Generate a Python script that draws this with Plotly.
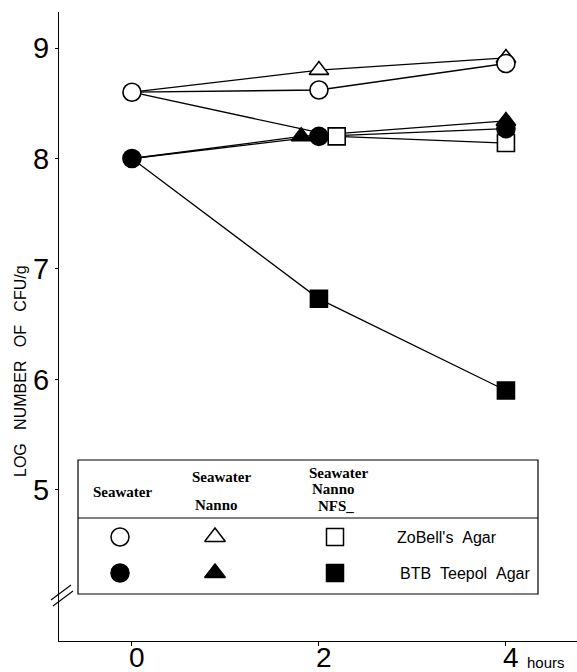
import plotly.graph_objects as go

# Viable counts (log CFU/g) over time, by treatment and plating medium
hours = [0, 2, 4]
seawater_zobell = [8.60, 8.62, 8.86]
nanno_zobell = [8.60, 8.80, 8.91]
nfs_zobell = [8.60, 8.20, 8.14]
seawater_btb = [8.00, 8.20, 8.27]
nanno_btb = [8.00, 8.20, 8.34]
nfs_btb = [8.00, 6.73, 5.90]

x_ticks = [0, 2, 4]
y_ticks = [5, 6, 7, 8, 9]

# Table-style key
key_columns = [["Seawater"], ["Seawater", "Nanno"], ["Seawater", "Nanno", "NFS_"]]
key_rows = ["ZoBell's\u00a0\u00a0Agar", "BTB\u00a0\u00a0Teepol\u00a0\u00a0Agar"]

W, H = 577, 672
ML, MR, MT, MB = 59, 0, 12, 31
PW, PH = W - ML - MR, H - MT - MB


def px_x(p):
    return (p - ML) / PW


def px_y(p):
    return (H - MB - p) / PH


INK = "black"
LINE_W = 1.3

# horizontal nudge at 2 h so overlapping symbols stay readable
nudge_2h = {"nanno_btb": -0.19, "nfs_zobell": 0.19}


def xs(key=None):
    d = nudge_2h.get(key, 0.0)
    return [h + (d if h == 2 else 0.0) for h in hours]


series = [
    # key, values, symbol, filled, size
    ("nfs_btb", nfs_btb, "square", True, 17),
    ("nfs_zobell", nfs_zobell, "square", False, 17),
    ("nanno_zobell", nanno_zobell, "triangle-up", False, 17),
    ("seawater_zobell", seawater_zobell, "circle", False, 18),
    ("seawater_btb", seawater_btb, "circle", True, 18),
    ("nanno_btb", nanno_btb, "triangle-up", True, 17),
]

fig = go.Figure()

# connecting lines first
for key, vals, sym, filled, size in series:
    fig.add_trace(go.Scatter(x=xs(key), y=vals, mode="lines",
                             line=dict(color=INK, width=LINE_W),
                             hoverinfo="skip", showlegend=False))

# symbols on top; treatments share the 0 h seawater start, shown by the circles only
for key, vals, sym, filled, size in series:
    xv, yv = xs(key), list(vals)
    if sym != "circle":
        xv, yv = xv[1:], yv[1:]
    fig.add_trace(go.Scatter(
        x=xv, y=yv, mode="markers",
        marker=dict(symbol=sym, size=size,
                    color=INK if filled else "white",
                    line=dict(color=INK, width=1.6)),
        showlegend=False, cliponaxis=False))

# key symbols, placed on a pixel-unit overlay axis
key_sym_x = [120, 215, 335]
key_sym_y = [537, 573]
key_syms = [("circle", 18), ("triangle-up", 18), ("square", 17)]
for r, yv in enumerate(key_sym_y):
    for c, xv in enumerate(key_sym_x):
        sym, size = key_syms[c]
        fig.add_trace(go.Scatter(
            x=[xv], y=[yv], xaxis="x2", yaxis="y2", mode="markers",
            marker=dict(symbol=sym, size=size,
                        color=INK if r == 1 else "white",
                        line=dict(color=INK, width=1.5)),
            showlegend=False, hoverinfo="skip"))

shapes = []
# key frame and divider
shapes.append(dict(type="rect", xref="paper", yref="paper",
                   x0=px_x(78), x1=px_x(538), y0=px_y(594), y1=px_y(460),
                   line=dict(color=INK, width=1.2), fillcolor="rgba(0,0,0,0)"))
shapes.append(dict(type="line", xref="paper", yref="paper",
                   x0=px_x(78), x1=px_x(538), y0=px_y(518), y1=px_y(518),
                   line=dict(color=INK, width=1.2)))
# axis break marks
for (x0, y0, x1, y1) in [(51, 600, 71, 585), (53, 606, 73, 591)]:
    shapes.append(dict(type="line", xref="paper", yref="paper",
                       x0=px_x(x0), y0=px_y(y0), x1=px_x(x1), y1=px_y(y1),
                       line=dict(color=INK, width=1.1)))

annotations = []
serif = dict(family="Liberation Serif, Times New Roman, serif", size=15, color=INK)
sans = dict(family="Liberation Sans, Arial, sans-serif", size=16, color=INK)

header_pos = [
    [(122, 492)],
    [(221, 477), (216, 505)],
    [(338, 473), (333, 489), (336, 506)],
]
for col, pos in zip(key_columns, header_pos):
    for txt, (xp, yp) in zip(col, pos):
        annotations.append(dict(text="<b>%s</b>" % txt, xref="paper", yref="paper",
                                x=px_x(xp), y=px_y(yp), xanchor="center", yanchor="middle",
                                showarrow=False, font=serif))
for txt, (xp, yp) in zip(key_rows, [(395, 537), (398, 573)]):
    annotations.append(dict(text=txt, xref="paper", yref="paper",
                            x=px_x(xp), y=px_y(yp), xanchor="left", yanchor="middle",
                            showarrow=False, font=sans))

tick_font = dict(family="Liberation Sans, Arial, sans-serif", size=29, color=INK)
x_tick_font = dict(family="Liberation Sans, Arial, sans-serif", size=28, color=INK)

# hour labels sit tight under the axis line
for t in x_ticks:
    annotations.append(dict(text=str(t), xref="x", yref="paper", x=t, xshift=5,
                            y=px_y(657), xanchor="center", yanchor="middle",
                            showarrow=False, font=x_tick_font))

# axis titles
annotations.append(dict(text="LOG\u00a0\u00a0\u00a0NUMBER\u00a0\u00a0\u00a0OF\u00a0\u00a0\u00a0CFU/g",
                        xref="paper", yref="paper", x=px_x(20), y=px_y(371),
                        xanchor="center", yanchor="middle", textangle=-90,
                        showarrow=False,
                        font=dict(family="Liberation Sans, Arial, sans-serif", size=16, color=INK)))
annotations.append(dict(text="hours", xref="paper", yref="paper",
                        x=px_x(525), y=px_y(662), xanchor="left", yanchor="middle",
                        showarrow=False,
                        font=dict(family="Liberation Sans, Arial, sans-serif", size=15, color=INK)))

fig.update_layout(
    width=W, height=H,
    margin=dict(l=ML, r=MR, t=MT, b=MB, pad=0, autoexpand=False),
    paper_bgcolor="white", plot_bgcolor="white",
    showlegend=False,
    xaxis=dict(range=[-0.78, 4.76], tickmode="array", tickvals=x_ticks,
               showticklabels=False, automargin=False,
               showgrid=False, zeroline=False, showline=True, linecolor=INK, linewidth=1.3,
               ticks="outside", ticklen=4, tickwidth=1.2, tickcolor=INK),
    yaxis=dict(range=[3.633, 9.326], tickmode="array", tickvals=y_ticks,
               ticktext=[str(t) for t in y_ticks], automargin=False,
               showgrid=False, zeroline=False, showline=True, linecolor=INK, linewidth=1.3,
               ticks="outside", ticklen=3, tickwidth=1.2, tickcolor=INK,
               tickfont=tick_font),
    xaxis2=dict(range=[ML, W - MR], overlaying="x", visible=False, fixedrange=True),
    yaxis2=dict(range=[H - MB, MT], overlaying="y", visible=False, fixedrange=True),
    shapes=shapes,
    annotations=annotations,
)

fig.write_html("out.html")
